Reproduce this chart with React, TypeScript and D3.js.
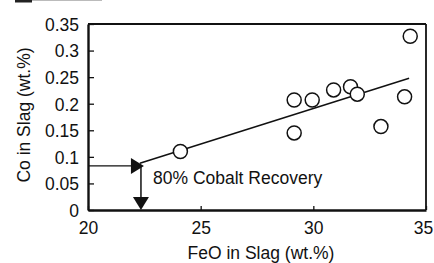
import * as d3 from 'd3';
import { useEffect, useRef } from 'react';

const width = 434;
const height = 263;
const margin = { top: 24, right: 8, bottom: 53, left: 88 };

const feo = [24.1, 29.15, 29.95, 30.9, 31.65, 31.95, 34.05, 34.3, 29.15, 33.0];
const co = [0.11, 0.207, 0.207, 0.226, 0.232, 0.218, 0.213, 0.327, 0.145, 0.157];

const fitX = [22.3, 34.25];
const fitY = [0.088, 0.248];

const recovery = { x: 22.35, y: 0.083, label: '80% Cobalt Recovery' };

const xTicks = [20, 25, 30, 35];
const yTicks = [0, 0.05, 0.1, 0.15, 0.2, 0.25, 0.3, 0.35];

const font = '"Liberation Sans", Arial, Helvetica, sans-serif';

export default function App() {
    const ref = useRef<SVGSVGElement>(null);

    useEffect(() => {
        if (!ref.current) return;
        const svg = d3.select(ref.current);
        svg.selectAll('*').remove();

        const x = d3.scaleLinear().domain([20, 35]).range([margin.left, width - margin.right]);
        const y = d3.scaleLinear().domain([0, 0.35]).range([height - margin.bottom, margin.top]);

        // scan artefact at top-left
        svg.append('rect').attr('x', 15).attr('y', 0).attr('width', 17).attr('height', 2.5).attr('fill', '#222');
        svg.append('rect').attr('x', 32).attr('y', 0).attr('width', 70).attr('height', 1).attr('fill', '#bbb');

        // frame
        const [x0, x1] = x.range();
        const [y0, y1] = y.range();
        svg.append('line').attr('x1', x0).attr('x2', x1).attr('y1', y1).attr('y2', y1).attr('stroke', '#111').attr('stroke-width', 2);
        svg.append('line').attr('x1', x1).attr('x2', x1).attr('y1', y1).attr('y2', y0).attr('stroke', '#111').attr('stroke-width', 1.8);

        const yAxis = svg
            .append('g')
            .attr('transform', `translate(${x0},0)`)
            .call(
                d3
                    .axisLeft(y)
                    .tickValues(yTicks)
                    .tickSizeInner(-6)
                    .tickSizeOuter(0)
                    .tickPadding(9)
                    .tickFormat((d) => String(+d)),
            );
        yAxis.select('.domain').attr('stroke', '#111').attr('stroke-width', 2.4);
        yAxis.selectAll('line').attr('stroke', '#111').attr('stroke-width', 1.3);
        yAxis.selectAll('text').attr('font-family', font).attr('font-size', 17.5).attr('fill', '#111').attr('dy', '0.36em');

        const xAxis = svg
            .append('g')
            .attr('transform', `translate(0,${y0})`)
            .call(
                d3
                    .axisBottom(x)
                    .tickValues(xTicks)
                    .tickSizeInner(-4)
                    .tickSizeOuter(0)
                    .tickPadding(12)
                    .tickFormat((d) => String(d)),
            );
        xAxis.select('.domain').attr('stroke', '#111').attr('stroke-width', 2.4);
        xAxis.selectAll('line').attr('stroke', '#111').attr('stroke-width', 1.3);
        xAxis
            .selectAll<SVGTextElement, number>('text')
            .attr('font-family', font)
            .attr('font-size', 17.5)
            .attr('fill', '#111')
            .attr('dx', (d) => (d === 35 ? -3 : 0));

        // axis titles
        svg.append('text')
            .attr('x', (x0 + x1) / 2 + 4)
            .attr('y', 259)
            .attr('text-anchor', 'middle')
            .attr('font-family', font)
            .attr('font-size', 17.5)
            .attr('fill', '#111')
            .text('FeO in Slag (wt.%)');
        svg.append('text')
            .attr('transform', `translate(30,${(y0 + y1) / 2 - 2}) rotate(-90)`)
            .attr('text-anchor', 'middle')
            .attr('font-family', font)
            .attr('font-size', 17.5)
            .attr('fill', '#111')
            .text('Co in Slag (wt.%)');

        // fit line
        svg.append('line')
            .attr('x1', x(fitX[0]))
            .attr('y1', y(fitY[0]))
            .attr('x2', x(fitX[1]))
            .attr('y2', y(fitY[1]))
            .attr('stroke', '#111')
            .attr('stroke-width', 1.5);

        // recovery arrows
        const ax = x(recovery.x);
        const ay = y(recovery.y);
        svg.append('line').attr('x1', x0).attr('x2', ax - 8).attr('y1', ay).attr('y2', ay).attr('stroke', '#111').attr('stroke-width', 1.3);
        svg.append('path')
            .attr('d', `M${ax - 10},${ay - 8}L${ax + 3},${ay}L${ax - 10},${ay + 8}Z`)
            .attr('fill', '#111');
        svg.append('line').attr('x1', ax).attr('x2', ax).attr('y1', ay).attr('y2', y0 - 10).attr('stroke', '#111').attr('stroke-width', 1.5);
        svg.append('path')
            .attr('d', `M${ax - 8},${y0 - 13}L${ax + 8},${y0 - 13}L${ax},${y0}Z`)
            .attr('fill', '#111');
        svg.append('text')
            .attr('x', 153)
            .attr('y', 184)
            .attr('font-family', font)
            .attr('font-size', 17.5)
            .attr('fill', '#111')
            .text(recovery.label);

        // data points
        svg.append('g')
            .selectAll('circle')
            .data(feo.map((f, i) => [f, co[i]] as [number, number]))
            .join('circle')
            .attr('cx', (d) => x(d[0]))
            .attr('cy', (d) => y(d[1]))
            .attr('r', 7)
            .attr('fill', '#fff')
            .attr('stroke', '#111')
            .attr('stroke-width', 1.5);
    }, []);

    return <svg ref={ref} width={width} height={height} style={{ position: 'absolute', left: 0, top: 0, background: '#fff' }} />;
}
